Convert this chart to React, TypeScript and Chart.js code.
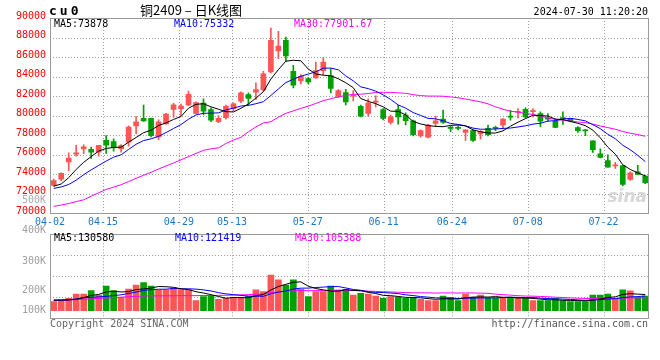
import React, { useEffect, useRef } from 'react';
import { Chart, registerables } from 'chart.js';

Chart.register(...registerables);

// ---------- data ----------
const dates = [
  '04-02','04-03','04-08','04-09','04-10','04-11','04-12','04-15','04-16','04-17','04-18','04-19','04-22','04-23','04-24','04-25','04-26','04-29','04-30',
  '05-06','05-07','05-08','05-09','05-10','05-13','05-14','05-15','05-16','05-17','05-20','05-21','05-22','05-23','05-24','05-27','05-28','05-29','05-30','05-31',
  '06-03','06-04','06-05','06-06','06-07','06-11','06-12','06-13','06-14','06-17','06-18','06-19','06-20','06-21','06-24','06-25','06-26','06-27','06-28',
  '07-01','07-02','07-03','07-04','07-05','07-08','07-09','07-10','07-11','07-12','07-15','07-16','07-17','07-18','07-19','07-22','07-23','07-24','07-25','07-26','07-29','07-30',
];
const axisDates = ['04-02','04-15','04-29','05-13','05-27','06-11','06-24','07-08','07-22'];

const opens = [72850,73500,75250,76050,76600,76540,76270,77480,77350,76610,
  77280,78960,79730,79730,77820,79160,80640,80710,81110,80220,
  81290,80610,79390,79800,80710,81490,82170,82410,82640,84470,
  86620,87710,84540,83590,83800,83860,84610,84100,81970,82350,
  82000,80960,80220,81380,80620,79310,80620,80050,79480,77930,
  77800,79210,79650,78740,78740,78270,78470,78140,78710,78740,
  79030,79900,80350,80650,80420,80210,79740,79440,79760,79710,
  78770,78480,77420,76100,75400,74860,74890,73470,74250,73810];
const closes = [73350,74100,75650,76200,76800,76270,76950,76980,76710,76940,
  78830,79360,79460,77950,79360,80170,81110,80980,82190,81350,
  80470,79530,79730,80950,81220,82340,81760,82680,84270,87710,
  87130,86110,83120,84030,83460,84610,85490,82780,82580,81400,
  82070,79950,81290,81450,79720,79880,79880,79480,78040,78470,
  79040,79480,79310,78700,78700,78540,77460,78370,78040,78700,
  79640,79850,80400,79880,80450,79440,79640,78800,79700,79470,
  78460,78440,76510,75730,74720,74890,72970,74150,73980,73140];
const highs = [73500,74150,76200,76950,77000,76780,76950,77950,77620,77050,
  78960,79900,81080,79750,79560,80240,81250,81180,82520,81420,
  81730,80810,80000,81080,81320,82440,82340,83360,84540,88970,
  88630,88050,85150,84200,83930,85490,85970,84810,82680,82700,
  82570,81090,81730,82020,80720,80050,81060,80290,79550,78540,
  79110,79950,80560,78940,78940,78540,78540,78470,79040,78940,
  79710,80550,80720,80790,80720,80380,80210,79640,80380,79710,
  78870,78600,77420,76610,76000,75230,74890,74250,74920,73880];
const lows = [72750,73350,74350,75850,76100,75630,75850,76140,76370,76270,
  76880,78150,79400,77820,77550,79130,79830,79970,81010,80170,
  80070,79390,79290,79630,80470,81320,81080,81660,82510,84370,
  85840,85560,82850,83250,83250,83800,84200,82340,81830,81100,
  81500,79880,79950,80900,79550,79140,79140,79040,77930,77800,
  77730,78880,79210,78370,78540,77460,77360,77600,77930,78470,
  78630,79540,79780,79780,79880,78870,79440,78770,79100,79370,
  78290,77960,76240,75660,74720,74590,72800,73370,73980,73040];
const volumes = [73000,87000,100000,135000,135000,162000,127000,200000,162000,108000,
  176000,208000,227000,200000,168000,168000,184000,168000,168000,81000,
  114000,119000,92000,100000,108000,108000,119000,168000,154000,289000,
  249000,208000,249000,173000,114000,154000,154000,200000,168000,173000,
  127000,141000,135000,119000,100000,114000,108000,100000,108000,92000,
  81000,81000,119000,108000,81000,135000,108000,127000,100000,100000,
  108000,108000,100000,100000,81000,81000,81000,100000,81000,73000,
  73000,73000,127000,127000,135000,100000,168000,160000,108000,119000];

// moving-average values before a full window exists
const priceMa5Head = [72780, 73000, 73650, 74500];
const priceMa10Head = [72550, 72700, 72950, 73400, 73950, 74450, 74900, 75350, 75750];
const priceMa30Head = [70700,70850,71000,71200,71380,71750,72100,72450,72680,72930,73250,73580,73900,74200,74530,
  74850,75150,75480,75800,76130,76450,76600,76700,77150,77500,77780,78350,78850,79250];
const volMa5Head = [85000, 85000, 88000, 92000];
const volMa10Head = [87000, 87000, 88000, 95000, 105000, 108000, 112000, 116000, 122000];
const volMa30Head = [81000,84000,87000,90000,93000,96000,100000,103000,106000,110000,113000,116000,119000,120000,120000,
  121000,121000,122000,122000,122000,123000,123000,124000,125000,126000,128000,130000,133000,136000];

const priceTicks = [70000,72000,74000,76000,78000,80000,82000,84000,86000,88000,90000];
const volumeTickLabels = ['400K', '300K', '200K', '100K'];
const strayVolumeLabel = '500K';
const symbol = 'cu0';
const title = '铜2409 – 日K线图';
const timestamp = '2024-07-30 11:20:20';
const priceLegend = ['MA5:73878', 'MA10:75332', 'MA30:77901.67'];
const volumeLegend = ['MA5:130580', 'MA10:121419', 'MA30:105388'];
const copyright = 'Copyright 2024 SINA.COM';
const siteUrl = 'http://finance.sina.com.cn';
const watermark = 'sina';

// ---------- styles ----------
const RED = '#ff5555';
const GREEN = '#00a000';
const MA_COLORS = ['#000000', '#0000ff', '#ff00ff'];
const GRID = '#9c9c9c';
const BOX = '#9a9a9a';
const MONO = '"DejaVu Sans Mono", "Liberation Mono", monospace';

const N = dates.length;
const movingAverage = (values: number[], n: number, head: number[]) =>
  values.map((_, i) => {
    if (i < n - 1) return head[i];
    let s = 0;
    for (let k = i - n + 1; k <= i; k++) s += values[k];
    return s / n;
  });

const candleColors = closes.map((c, i) => (c >= opens[i] ? RED : GREEN));
const gridValue = (idx: number) => -0.5 + (idx * N) / (N - 1);

const xScale = (showLabels: boolean, height: number) => ({
  type: 'linear',
  min: -0.5,
  max: N - 0.5,
  offset: false,
  afterBuildTicks: (scale: any) => {
    scale.ticks = axisDates.map((d) => ({ value: gridValue(dates.indexOf(d)) }));
  },
  afterFit: (scale: any) => {
    scale.height = height;
  },
  ticks: {
    display: showLabels,
    autoSkip: false,
    maxRotation: 0,
    minRotation: 0,
    padding: 3,
    color: '#1a78c8',
    font: { family: MONO, size: 10 },
    callback: (_v: number, i: number) => axisDates[i],
  },
  grid: { display: false, drawTicks: false, offset: false },
  border: { display: false },
});

// dotted grid drawn at the scales' own tick positions
const gridPlugin = {
  id: 'dottedGrid',
  beforeDatasetsDraw(chart: any) {
    const { ctx, chartArea: a, scales } = chart;
    ctx.save();
    ctx.strokeStyle = GRID;
    ctx.lineWidth = 1;
    ctx.setLineDash([1, 2]);
    ctx.beginPath();
    scales.x.ticks.forEach((t: any) => {
      const x = Math.round(scales.x.getPixelForValue(t.value)) + 0.5;
      ctx.moveTo(x, a.top);
      ctx.lineTo(x, a.bottom);
    });
    scales.y.ticks.forEach((t: any) => {
      const y = Math.round(scales.y.getPixelForValue(t.value)) + 0.5;
      ctx.moveTo(a.left, y);
      ctx.lineTo(a.right, y);
    });
    ctx.stroke();
    ctx.restore();
  },
};

const boxPlugin = {
  id: 'box',
  afterDatasetsDraw(chart: any) {
    const { ctx, chartArea: a } = chart;
    ctx.save();
    ctx.strokeStyle = BOX;
    ctx.lineWidth = 1;
    ctx.strokeRect(Math.round(a.left) + 0.5, Math.round(a.top) + 0.5, Math.round(a.right - a.left) - 1, Math.round(a.bottom - a.top));
    ctx.restore();
  },
};

const drawText = (ctx: any, text: string, x: number, y: number, font: string, color: string, align = 'left') => {
  ctx.font = font;
  ctx.fillStyle = color;
  ctx.textAlign = align;
  ctx.textBaseline = 'middle';
  ctx.fillText(text, x, y);
};

const priceTextPlugin = {
  id: 'priceText',
  afterDraw(chart: any) {
    const { ctx, chartArea: a } = chart;
    ctx.save();
    ctx.letterSpacing = '3px';
    drawText(ctx, symbol, 49, 12, `bold 13px ${MONO}`, '#000');
    ctx.letterSpacing = '0px';
    drawText(ctx, title, 140, 10, '13px "Noto Sans CJK SC", sans-serif', '#000');
    drawText(ctx, timestamp, 648, 12, `10px ${MONO}`, '#000', 'right');
    const lx = [a.left + 4, a.left + 124, a.left + 244];
    priceLegend.forEach((t, i) => drawText(ctx, t, lx[i], a.top + 6, `10px ${MONO}`, MA_COLORS[i]));
    drawText(ctx, strayVolumeLabel, a.left - 4, a.bottom - 13, `10px ${MONO}`, '#aaaaaa', 'right');
    drawText(ctx, watermark, a.right - 2, a.bottom - 16, 'italic bold 17px "DejaVu Sans", sans-serif', '#d6d6d6', 'right');
    ctx.restore();
  },
};

const volumeTextPlugin = {
  id: 'volumeText',
  afterDraw(chart: any) {
    const { ctx, chartArea: a } = chart;
    ctx.save();
    const lx = [a.left + 4, a.left + 125, a.left + 245];
    volumeLegend.forEach((t, i) => drawText(ctx, t, lx[i], a.top + 4, `10px ${MONO}`, MA_COLORS[i]));
    const ly = [a.top - 3.6, a.top + 27.4, a.top + 55.7, a.top + 75.7];
    volumeTickLabels.forEach((t, i) => drawText(ctx, t, a.left - 4, ly[i], `10px ${MONO}`, '#a0a0a0', 'right'));
    drawText(ctx, copyright, a.left, a.bottom + 6, `10px ${MONO}`, '#666666');
    drawText(ctx, siteUrl, a.right - 1, a.bottom + 6, `10px ${MONO}`, '#555555', 'right');
    ctx.restore();
  },
};

const maDataset = (label: string, values: number[], color: string) => ({
  type: 'line',
  label,
  data: values.map((v, i) => ({ x: i, y: v })),
  borderColor: color,
  borderWidth: 1,
  pointRadius: 0,
  tension: 0,
  order: 0,
});

export default function App() {
  const priceRef = useRef<HTMLCanvasElement>(null);
  const volRef = useRef<HTMLCanvasElement>(null);

  useEffect(() => {
    const pMa5 = movingAverage(closes, 5, priceMa5Head);
    const pMa10 = movingAverage(closes, 10, priceMa10Head);
    const pMa30 = movingAverage(closes, 30, priceMa30Head);
    const vMa5 = movingAverage(volumes, 5, volMa5Head);
    const vMa10 = movingAverage(volumes, 10, volMa10Head);
    const vMa30 = movingAverage(volumes, 30, volMa30Head);

    const priceChart = new Chart(priceRef.current as HTMLCanvasElement, {
      type: 'bar',
      data: {
        datasets: [
          maDataset('MA5', pMa5, MA_COLORS[0]),
          maDataset('MA10', pMa10, MA_COLORS[1]),
          maDataset('MA30', pMa30, MA_COLORS[2]),
          {
            type: 'bar',
            label: 'body',
            data: opens.map((o, i) => ({ x: i, y: [o, closes[i]] })),
            backgroundColor: candleColors,
            barThickness: 5,
            grouped: false,
            minBarLength: 1,
            order: 1,
          },
          {
            type: 'bar',
            label: 'wick',
            data: lows.map((l, i) => ({ x: i, y: [l, highs[i]] })),
            backgroundColor: candleColors,
            barThickness: 1,
            grouped: false,
            order: 2,
          },
        ],
      } as any,
      options: {
        animation: false,
        responsive: false,
        devicePixelRatio: 1,
        events: [],
        layout: { padding: { left: 0, right: 11, top: 18, bottom: 0 } },
        plugins: { legend: { display: false }, tooltip: { enabled: false } },
        scales: {
          x: xScale(true, 232 - 213.3),
          y: {
            type: 'linear',
            min: priceTicks[0],
            max: priceTicks[priceTicks.length - 1],
            afterBuildTicks: (s: any) => {
              s.ticks = priceTicks.map((v) => ({ value: v }));
            },
            afterFit: (s: any) => {
              s.width = 50;
            },
            ticks: {
              autoSkip: false,
              color: '#ff0000',
              padding: 4,
              labelOffset: -2,
              font: { family: MONO, size: 10 },
              callback: (v: number) => String(v),
            },
            grid: { display: false, drawTicks: false },
            border: { display: false },
          },
        },
      } as any,
      plugins: [gridPlugin, boxPlugin, priceTextPlugin],
    });

    const volMin = -61600;
    const volMax = 618800;
    const volChart = new Chart(volRef.current as HTMLCanvasElement, {
      type: 'bar',
      data: {
        datasets: [
          maDataset('MA5', vMa5, MA_COLORS[0]),
          maDataset('MA10', vMa10, MA_COLORS[1]),
          maDataset('MA30', vMa30, MA_COLORS[2]),
          {
            type: 'bar',
            label: 'volume',
            data: volumes.map((v, i) => ({ x: i, y: v })),
            backgroundColor: candleColors,
            barThickness: 6,
            grouped: false,
            order: 1,
          },
        ],
      } as any,
      options: {
        animation: false,
        responsive: false,
        devicePixelRatio: 1,
        events: [],
        layout: { padding: { left: 0, right: 11, top: 10.3, bottom: 0 } },
        plugins: { legend: { display: false }, tooltip: { enabled: false } },
        scales: {
          x: xScale(false, 136 - 94.3),
          y: {
            type: 'linear',
            min: volMin,
            max: volMax,
            afterBuildTicks: (s: any) => {
              s.ticks = [1, 2, 3].map((k) => ({ value: volMin + ((volMax - volMin) * k) / 4 }));
            },
            afterFit: (s: any) => {
              s.width = 50;
            },
            ticks: { display: false },
            grid: { display: false, drawTicks: false },
            border: { display: false },
          },
        },
      } as any,
      plugins: [gridPlugin, boxPlugin, volumeTextPlugin],
    });

    return () => {
      priceChart.destroy();
      volChart.destroy();
    };
  }, []);

  return (
    <div style={{ position: 'absolute', left: 0, top: 0, width: 660, height: 360, background: '#fff' }}>
      <canvas ref={priceRef} width={660} height={232} style={{ position: 'absolute', left: 0, top: 0 }} />
      <canvas ref={volRef} width={660} height={136} style={{ position: 'absolute', left: 0, top: 224 }} />
    </div>
  );
}
